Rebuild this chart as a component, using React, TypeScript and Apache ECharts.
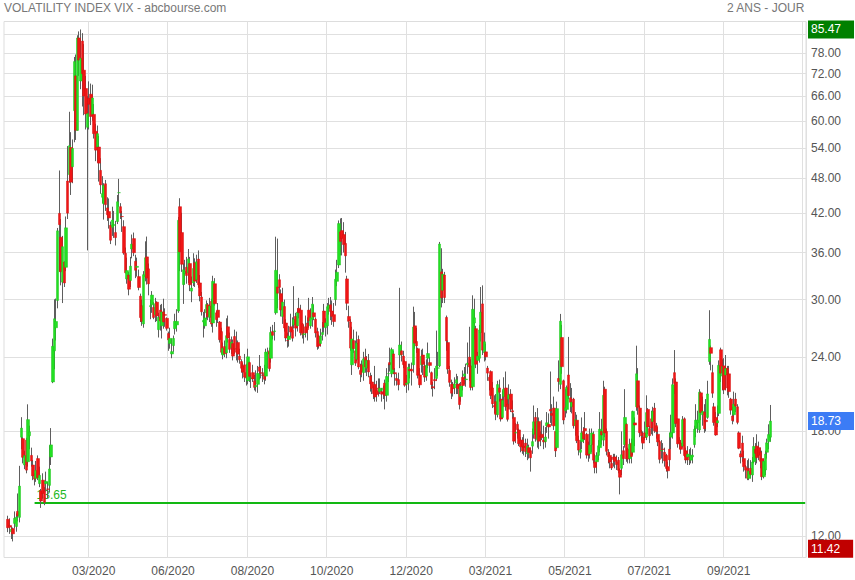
import React, { useEffect, useRef } from 'react';
import * as echarts from 'echarts';

// Daily VIX candles [open, close, low, high] — 14 Jan 2020 → 31 Dec 2020
const vix2020: number[][] = [
  // Jan
  [12.80,12.39,12.18,12.98],[12.50,12.42,12.10,12.85],[12.20,12.32,11.86,12.45],[12.35,12.10,11.75,12.40],
  [12.60,12.85,12.35,13.20],[12.45,12.91,12.20,13.10],[13.20,12.98,12.70,14.15],[12.90,14.56,12.65,15.75],
  [17.60,18.23,16.80,19.02],[17.50,16.28,15.90,17.60],[15.80,16.39,15.55,16.70],[17.40,15.49,15.30,17.56],
  [16.00,18.84,15.70,19.99],
  // Feb
  [17.70,17.97,16.80,18.40],[16.40,16.05,15.70,16.90],[15.80,15.15,14.90,16.10],[15.20,14.96,14.60,15.30],
  [15.00,15.47,14.80,16.05],[16.20,15.04,14.90,16.40],[14.70,15.18,14.50,15.70],[14.30,13.74,13.38,14.40],
  [14.90,14.15,13.90,15.30],[14.30,13.68,13.52,14.50],[14.70,14.83,14.30,15.40],[14.40,14.38,13.90,14.80],
  [14.60,15.56,14.20,17.05],[16.30,17.08,15.80,18.23],[21.80,25.03,21.70,25.79],[24.60,27.85,22.90,30.03],
  [26.90,27.56,25.60,30.12],[29.90,39.16,29.00,39.60],[41.90,40.11,33.42,49.48],
  // Mar
  [38.20,33.42,31.70,41.00],[32.10,36.82,29.60,38.40],[34.70,31.99,31.50,34.80],[34.00,39.62,33.50,41.40],
  [47.50,41.94,41.00,54.39],[48.70,54.46,47.20,62.12],[54.10,47.30,45.00,57.40],[50.20,53.90,47.10,55.80],
  [62.40,75.47,55.20,76.83],[71.40,57.83,55.70,77.57],[57.80,82.69,57.80,83.56],[82.70,75.91,71.40,84.83],
  [70.00,76.45,67.80,85.47],[81.70,72.00,63.40,84.26],[73.00,66.04,61.30,80.74],[68.00,61.59,58.00,71.40],
  [58.50,61.67,36.30,66.00],[65.50,63.95,58.00,69.90],[66.50,61.00,59.00,69.30],[61.50,65.54,60.00,69.00],
  [61.50,57.08,56.00,64.00],[57.60,53.54,51.30,59.30],
  // Apr
  [54.20,57.06,51.00,58.90],[54.20,50.91,47.40,56.60],[49.50,46.80,45.20,51.90],[44.60,45.24,43.60,48.40],
  [43.50,46.70,40.90,47.10],[47.00,43.35,42.30,47.70],[42.80,41.67,40.70,44.60],[42.20,41.17,39.50,44.40],
  [40.00,37.76,37.20,40.60],[39.70,40.84,38.40,43.00],[40.00,40.11,38.10,42.30],[38.90,38.15,37.00,40.70],
  [40.60,43.83,40.20,45.00],[45.40,45.41,43.00,47.90],[43.00,41.98,41.00,43.60],[41.40,41.38,39.00,42.30],
  [39.80,35.93,35.70,40.80],[35.90,33.29,33.20,36.70],[32.50,33.57,31.90,35.30],[33.00,31.23,30.50,33.40],
  [32.30,34.15,31.50,35.40],
  // May
  [36.50,37.19,35.20,38.60],[38.00,35.97,35.50,38.90],[34.80,33.61,32.60,35.70],[34.00,34.12,32.80,35.30],
  [32.80,31.44,31.10,33.70],[30.40,27.98,27.50,30.70],[29.30,27.57,27.10,30.00],[27.30,33.04,26.90,33.50],
  [32.80,35.28,32.20,37.60],[35.40,32.61,31.80,38.30],[33.80,31.89,30.50,34.50],[29.20,29.30,27.80,30.00],
  [29.40,30.53,28.50,31.00],[29.10,27.99,27.80,29.70],[28.30,29.53,27.50,30.20],[29.70,28.16,27.60,29.80],
  [26.70,28.01,25.90,28.50],[28.80,27.62,26.60,29.40],[27.10,28.59,25.80,29.50],[28.60,27.51,26.80,30.10],
  // Jun
  [28.30,28.23,27.00,29.00],[27.90,26.84,26.60,28.00],[26.30,25.66,24.60,26.50],[25.30,25.81,24.80,26.90],
  [24.30,24.52,23.90,25.80],[25.10,25.81,24.50,26.10],[26.80,27.57,26.20,28.40],[27.20,27.57,26.50,28.90],
  [28.70,40.79,28.50,41.33],[43.00,36.09,33.50,44.44],[38.90,34.40,33.40,42.00],[31.80,33.67,29.50,34.50],
  [33.20,33.47,31.80,35.00],[34.00,32.94,31.90,35.40],[33.30,35.12,32.00,36.50],[34.50,31.77,31.00,35.40],
  [31.00,31.37,29.70,32.80],[32.00,33.84,31.60,35.90],[34.60,32.22,31.50,35.20],[32.40,34.73,32.00,35.70],
  [35.10,31.78,31.40,36.30],[32.00,30.43,29.80,33.00],
  // Jul
  [30.30,28.62,28.20,30.90],[27.50,27.68,25.90,28.60],[27.10,27.94,26.80,28.90],[28.50,29.43,27.80,29.90],
  [29.40,28.08,27.70,29.60],[28.00,29.26,27.50,30.20],[29.80,27.29,27.00,30.10],[27.40,32.19,26.40,32.90],
  [31.90,29.52,29.30,32.60],[28.50,27.76,27.00,28.70],[28.80,28.00,27.40,29.60],[27.50,25.68,25.40,27.60],
  [26.50,24.46,24.30,26.90],[24.20,24.84,23.80,25.40],[25.00,24.32,24.00,25.60],[24.40,26.08,23.90,27.90],
  [27.00,25.84,25.40,28.20],[25.70,24.74,24.40,26.40],[24.90,25.44,24.30,26.00],[25.30,24.10,23.70,25.70],
  [26.00,24.76,24.30,26.70],[24.80,24.46,23.70,26.50],
  // Aug
  [25.40,24.28,23.50,25.60],[24.10,23.76,23.40,24.80],[23.60,22.99,22.60,23.80],[23.20,22.65,22.10,23.50],
  [23.30,22.21,21.80,24.30],[22.60,22.13,21.50,23.40],[21.90,24.03,21.60,24.80],[23.50,22.28,21.80,23.60],
  [22.10,22.13,21.30,22.60],[22.60,22.05,21.80,23.30],[21.90,21.35,21.10,22.40],[21.40,21.51,21.00,22.80],
  [21.60,22.54,20.90,23.20],[23.10,22.72,22.00,24.20],[22.60,22.54,22.10,23.20],[22.40,22.37,21.80,23.00],
  [22.60,22.03,21.60,23.30],[22.30,24.47,21.90,24.80],[24.30,24.47,23.00,24.90],[24.60,22.96,22.70,24.90],
  [23.90,26.41,23.50,27.00],
  // Sep
  [26.50,26.12,25.70,27.20],[26.50,26.57,25.60,27.50],[28.50,33.60,28.30,38.28],[31.50,30.75,29.00,38.00],
  [32.40,31.46,30.00,33.10],[30.70,28.81,28.10,31.20],[28.10,29.71,27.30,31.40],[29.20,26.87,26.50,30.00],
  [27.40,25.85,25.50,27.80],[25.60,25.59,24.90,26.40],[25.70,26.04,25.00,27.10],[27.00,26.46,25.90,28.40],
  [26.70,25.83,25.50,28.00],[27.20,27.78,26.80,31.60],[28.10,26.86,26.00,28.50],[27.10,28.58,26.50,29.00],
  [29.00,28.51,27.90,30.20],[28.80,26.38,26.10,29.40],[27.30,26.19,25.80,27.40],[26.20,26.27,25.30,27.20],
  [27.00,26.37,25.90,28.20],
  // Oct
  [27.40,26.70,25.60,28.00],[28.80,27.63,26.90,30.20],[27.10,27.96,26.80,29.00],[27.80,29.48,27.00,30.30],
  [28.50,28.06,27.70,29.40],[27.80,26.36,25.90,28.00],[26.50,25.00,24.70,26.90],[26.00,25.07,24.80,26.20],
  [25.30,26.07,25.00,26.80],[26.20,26.40,25.60,27.50],[28.70,26.97,26.40,29.50],[26.90,27.41,26.00,27.90],
  [27.10,29.18,26.20,29.60],[29.00,29.35,28.30,30.20],[29.40,28.65,27.70,30.30],[28.70,28.11,27.20,29.90],
  [28.30,27.55,27.00,29.60],[30.00,32.46,29.30,33.70],[32.20,33.35,31.60,35.00],[34.30,40.28,33.90,40.77],
  [39.00,37.59,35.60,41.09],[39.20,38.02,35.60,41.16],
  // Nov
  [38.60,37.13,36.00,40.50],[37.30,35.55,33.30,39.00],[32.50,29.57,28.80,32.90],[28.10,27.58,26.90,29.30],
  [27.50,24.86,24.60,27.80],[23.30,25.75,22.40,27.00],[25.60,24.80,24.40,26.70],[24.60,23.45,23.20,25.60],
  [23.80,25.35,23.60,26.50],[25.70,23.10,22.90,26.10],[22.80,22.45,21.80,23.40],[23.30,22.71,22.20,23.70],
  [22.60,23.84,21.90,24.50],[24.00,23.11,22.60,24.80],[23.00,23.70,22.30,24.10],[23.70,22.66,22.20,24.30],
  [22.30,21.64,21.00,22.60],[21.80,21.25,20.80,22.40],[21.20,20.84,20.40,21.50],[21.60,20.57,20.20,23.20],
  // Dec
  [21.10,20.77,20.20,21.90],[21.30,21.17,20.60,22.10],[21.00,21.28,20.80,22.10],[21.00,20.79,20.20,21.30],
  [21.10,21.30,20.40,21.50],[21.70,20.68,19.60,22.00],[20.70,22.27,20.20,23.00],[22.50,22.52,21.80,23.40],
  [23.50,23.31,22.70,24.90],[22.50,24.72,22.20,24.90],[24.30,22.89,22.50,24.60],[22.60,22.50,21.50,23.00],
  [22.10,21.93,21.50,22.50],[22.00,21.57,21.10,22.60],[24.20,25.16,23.00,31.40],[24.60,24.23,23.60,25.50],
  [24.10,23.31,23.00,24.60],[23.60,21.53,21.40,23.70],[21.60,21.70,20.90,22.40],[21.70,23.08,21.10,23.40],
  [22.90,22.77,22.10,23.40],[22.90,22.75,21.50,23.50],
];

// Daily VIX candles [open, close, low, high] — 4 Jan 2021 → 10 Nov 2021
const vix2021: number[][] = [
  // Jan
  [23.30,26.97,22.60,29.19],[27.10,25.34,24.80,28.60],[25.50,25.07,24.40,26.90],[24.80,22.37,22.10,24.90],
  [22.40,21.56,21.30,23.00],[23.30,24.08,22.60,24.70],[24.20,23.33,22.40,24.80],[23.20,22.21,21.80,23.60],
  [22.30,23.25,21.90,23.80],[23.90,24.34,23.00,25.40],[23.50,23.24,22.60,24.00],[22.60,21.58,21.20,22.70],
  [21.40,21.32,20.60,21.80],[22.00,21.91,21.20,23.00],[22.10,23.19,21.90,26.60],[23.00,23.02,22.30,24.50],
  [23.20,37.21,23.10,37.51],[33.40,30.21,29.10,36.60],[31.10,33.09,29.60,33.80],
  // Feb
  [33.00,30.24,29.60,33.40],[28.00,25.56,24.60,28.20],[25.40,22.91,22.50,25.60],[22.80,21.77,21.40,23.20],
  [21.60,20.87,20.40,22.00],[21.60,21.24,20.60,21.80],[21.30,21.63,20.80,22.20],[21.70,21.99,20.80,22.50],
  [21.60,21.25,20.80,22.30],[21.60,19.97,19.60,21.70],[20.60,21.46,20.20,21.80],[22.20,21.50,21.10,22.80],
  [22.30,22.49,21.60,23.10],[22.00,22.05,21.40,23.40],[23.30,23.45,22.50,25.40],[24.00,23.11,21.90,27.00],
  [23.20,21.34,21.10,23.80],[21.40,28.89,21.10,30.50],[27.40,27.95,25.70,30.10],
  // Mar
  [26.80,23.35,23.00,27.10],[23.70,24.10,22.50,24.50],[23.90,26.67,23.50,27.20],[26.40,28.57,25.50,31.50],
  [29.50,24.66,24.20,31.70],[24.40,25.47,23.60,26.40],[24.50,24.03,23.70,25.30],[23.00,22.56,21.90,23.20],
  [22.20,21.91,21.10,22.40],[22.70,20.69,20.40,22.80],[21.30,20.03,19.70,21.80],[19.90,19.79,19.30,20.70],
  [20.20,19.23,18.80,20.80],[19.20,21.58,19.00,21.90],[21.30,20.95,20.20,22.00],[20.40,18.88,18.70,20.80],
  [19.00,20.30,18.90,21.10],[20.60,21.20,19.80,22.20],[21.30,19.81,19.50,22.70],[20.00,18.86,18.70,20.60],
  [20.40,20.74,19.60,21.60],[20.80,19.61,19.40,21.20],[19.50,19.40,18.90,20.30],
  // Apr
  [19.00,17.33,17.10,19.30],[17.90,17.91,17.20,18.60],[18.50,18.12,17.50,18.70],[18.10,17.16,17.00,18.20],
  [17.40,16.95,16.60,17.60],[17.40,16.69,16.50,17.60],[17.00,16.91,16.40,17.80],[17.20,16.65,16.30,17.50],
  [16.50,16.99,16.10,17.50],[16.90,16.57,16.20,17.10],[16.70,16.25,15.40,16.90],[17.00,17.30,16.50,18.20],
  [17.80,18.68,17.50,19.90],[19.00,17.50,17.30,19.40],[17.40,18.71,16.90,19.70],[18.70,17.33,16.80,19.00],
  [17.70,17.64,17.00,18.00],[17.80,17.56,17.40,18.80],[17.40,17.28,16.80,18.40],[17.30,17.61,16.90,18.30],
  [18.40,18.61,17.90,19.40],
  // May
  [18.50,18.31,17.50,19.30],[19.60,19.48,18.60,22.70],[19.30,19.15,18.40,20.00],[19.70,18.39,18.10,20.60],
  [18.00,16.69,16.30,18.00],[16.90,19.66,16.80,20.20],[22.10,21.84,21.00,23.70],[21.60,27.59,21.20,28.38],
  [25.90,23.13,22.50,27.20],[21.90,18.81,18.50,22.00],[19.50,19.72,19.00,21.20],[19.60,21.34,19.30,21.50],
  [22.40,20.67,20.40,25.96],[20.50,20.15,19.40,21.70],[19.80,20.15,19.30,21.30],[20.40,18.40,18.20,20.50],
  [18.40,18.84,17.70,19.40],[18.80,17.36,17.20,19.20],[17.40,16.74,16.40,17.70],[16.60,16.76,16.20,17.40],
  // Jun
  [17.30,17.90,16.80,19.00],[18.00,17.48,17.20,18.30],[18.20,18.04,17.40,19.40],[17.80,16.42,16.20,17.90],
  [17.00,16.42,16.00,17.30],[16.50,17.07,16.20,18.20],[17.10,17.89,16.60,18.20],[17.80,16.10,15.90,18.00],
  [16.00,15.65,15.30,16.50],[16.00,16.39,15.30,16.60],[16.40,17.02,16.10,17.40],[16.90,18.15,16.60,19.40],
  [18.00,17.75,17.10,18.90],[17.40,20.70,17.00,21.90],[21.20,17.89,17.60,21.40],[18.00,16.66,16.40,18.20],
  [16.60,16.32,15.90,16.80],[16.40,15.97,15.60,16.60],[15.90,15.62,15.50,16.30],[16.30,16.14,15.70,16.50],
  [16.30,16.02,15.60,16.50],[16.00,15.83,15.50,16.40],
  // Jul
  [16.10,15.48,15.30,16.30],[15.50,15.07,14.10,15.60],[15.60,16.44,15.20,18.00],[16.70,16.20,15.80,17.00],
  [17.10,19.00,16.90,21.20],[18.50,16.18,16.00,18.60],[16.80,16.17,15.90,16.90],[16.20,17.12,15.90,17.50],
  [17.20,16.33,15.90,17.50],[16.60,19.45,16.40,19.50],[18.60,18.45,17.00,19.00],[19.80,22.50,19.50,25.09],
  [21.90,19.73,19.20,23.00],[19.70,17.91,17.60,19.90],[17.90,17.69,17.30,18.10],[17.60,17.20,16.80,18.00],
  [17.90,17.58,17.40,18.70],[17.60,19.36,17.40,20.70],[19.60,18.31,17.80,19.70],[18.20,17.70,17.20,18.40],
  [18.90,18.24,17.80,19.50],
  // Aug
  [18.70,19.46,17.70,19.80],[19.70,18.04,17.90,20.10],[18.40,17.97,17.50,18.60],[17.80,17.28,17.00,18.30],
  [17.30,16.15,15.90,17.40],[16.70,16.72,16.20,17.40],[16.80,16.79,15.90,17.20],[16.60,16.06,15.70,16.90],
  [16.40,15.59,15.40,16.50],[15.70,15.45,15.00,16.00],[16.80,16.12,15.70,17.90],[17.60,17.91,16.80,19.20],
  [17.90,21.57,17.50,22.10],[22.60,21.67,20.80,24.67],[21.80,18.56,18.30,22.10],[18.90,17.15,16.90,18.90],
  [17.40,17.22,16.80,17.60],[17.20,16.79,16.50,17.40],[17.00,18.84,16.90,19.10],[18.90,16.39,16.30,19.00],
  [16.70,16.11,15.90,16.90],[16.30,16.48,15.80,17.00],
  // Sep
  [16.30,16.11,15.80,16.80],[16.10,16.41,15.90,16.90],[16.30,16.41,15.90,16.80],[17.10,18.15,16.90,18.40],
  [18.20,18.80,17.60,20.00],[18.60,18.80,17.90,19.50],[18.10,20.95,17.90,21.20],[20.90,19.37,18.80,21.00],
  [19.20,19.46,18.40,20.60],[19.40,18.18,17.90,20.00],[18.80,18.69,18.00,20.40],[19.00,20.81,18.90,21.90],
  [23.60,25.71,23.30,28.79],[24.90,24.36,22.80,25.10],[22.60,20.87,20.50,23.30],[19.80,18.63,18.40,20.10],
  [19.00,17.75,17.70,19.40],[18.60,18.76,18.30,19.90],[19.30,23.25,19.10,23.70],[24.70,22.56,21.80,24.90],
  [22.30,23.14,21.10,23.80],
  // Oct
  [23.20,21.15,20.80,23.90],[22.40,22.96,21.10,24.20],[23.00,21.30,20.70,23.20],[22.50,21.00,20.50,23.20],
  [20.40,19.54,19.20,20.50],[19.10,18.77,18.50,19.80],[19.20,20.00,18.70,21.00],[20.40,19.85,19.40,20.90],
  [19.80,18.64,18.50,20.00],[17.90,16.86,16.80,18.00],[16.50,16.30,15.90,16.70],[17.20,16.30,16.00,17.70],
  [16.20,15.70,15.40,16.70],[15.70,15.49,15.00,15.80],[15.60,15.01,14.90,16.10],[15.00,15.43,14.90,16.20],
  [15.60,15.24,15.00,16.10],[15.20,15.98,14.80,16.30],[16.00,16.98,15.90,17.60],[16.80,16.53,15.80,17.20],
  [17.00,16.26,15.90,17.80],
  // Nov
  [16.90,16.41,16.10,17.30],[16.60,16.03,15.60,16.90],[16.20,15.10,14.90,16.70],[15.10,16.03,15.00,16.20],
  [15.50,16.48,15.20,16.70],[16.60,17.22,16.20,17.50],[17.30,17.78,16.80,18.50],[17.60,18.73,17.30,19.94],
];

// Gridline levels (84 sits under the high-value box, so it carries no label)
const yGridValues = [12, 18, 24, 30, 36, 42, 48, 54, 60, 66, 72, 78, 84];
const yLabelValues = [12, 18, 24, 30, 36, 42, 48, 54, 60, 66, 72, 78];
const hiddenGridValue = 84;
const xTickLabels = ['03/2020', '06/2020', '08/2020', '10/2020', '12/2020', '03/2021', '05/2021', '07/2021', '09/2021'];
const highestValue = 85.47;
const lastValue = 18.73;
const lowestValue = 11.42;
const supportValue = 13.65;

const TOTAL_SLOTS = 485;
const LEAD_SLOTS = 2;
const FIRST_TICK = 51;
const TICK_STEP = 48;
const SUPPORT_START = 18;

const FONT = "'Liberation Sans', Arial, Helvetica, sans-serif";

export default function App() {
  const ref = useRef<HTMLDivElement>(null);

  useEffect(() => {
    if (!ref.current) return;
    const chart = echarts.init(ref.current, null, { renderer: 'svg' });
    const rows = [...vix2020, ...vix2021];
    const categories = Array.from({ length: TOTAL_SLOTS }, (_, i) => 's' + i);
    const wicks = rows.map((r, i) => [i + LEAD_SLOTS, r[0], r[1], r[2], r[3]]);
    const bodies = rows.map((r, i) => [i + LEAD_SLOTS, r[0], r[1], Math.min(r[0], r[1]), Math.max(r[0], r[1])]);
    const isTick = (i: number) => i >= FIRST_TICK && (i - FIRST_TICK) % TICK_STEP === 0;

    const boxLabel = (bg: string) => ({
      show: true,
      position: 'end',
      distance: 2,
      color: '#ffffff',
      fontSize: 12,
      fontFamily: FONT,
      lineHeight: 14,
      padding: [2, 13, 2, 3],
      backgroundColor: bg,
      formatter: (p: any) => Number(p.value).toFixed(2),
    });

    chart.setOption({
      animation: false,
      textStyle: { fontFamily: FONT },
      graphic: [
        {
          type: 'text', left: 4, top: 2,
          style: { text: 'VOLATILITY INDEX VIX - abcbourse.com', fill: '#777777', fontSize: 12, fontFamily: FONT },
        },
        {
          type: 'text', right: 50, top: 2,
          style: { text: '2 ANS - JOUR', fill: '#777777', fontSize: 12, fontFamily: FONT },
        },
      ],
      grid: {
        left: 4, right: 49, top: 21.5, bottom: 22.5,
        show: true, borderColor: '#dddddd', borderWidth: 1, backgroundColor: 'transparent',
      },
      xAxis: {
        type: 'category',
        data: categories,
        boundaryGap: true,
        axisLine: { show: false },
        axisTick: { show: false },
        splitLine: { show: true, interval: (i: number) => isTick(i), lineStyle: { color: '#e0e0e0', width: 1 } },
        axisLabel: {
          interval: (i: number) => isTick(i),
          formatter: (_v: string, i: number) => xTickLabels[(i - FIRST_TICK) / TICK_STEP] || '',
          color: '#555555', fontSize: 12, fontFamily: FONT, margin: 7, padding: [0, 0, 0, 9],
        },
      },
      yAxis: {
        type: 'log',
        logBase: 10,
        position: 'right',
        min: 11.04,
        max: 88.15,
        axisLine: { show: false },
        axisTick: { show: false, customValues: yGridValues },
        axisLabel: {
          customValues: yLabelValues,
          formatter: (v: number) => Number(v).toFixed(2),
          color: '#555555', fontSize: 12, fontFamily: FONT, margin: 5,
        },
        splitLine: { show: true, lineStyle: { color: '#e0e0e0', width: 1 } },
      },
      series: [
        {
          type: 'candlestick',
          name: 'wicks',
          z: 2,
          barWidth: 1,
          data: wicks,
          encode: { x: 0, y: [1, 2, 3, 4] },
          itemStyle: { color: '#5e5e5e', color0: '#5e5e5e', borderColor: '#5e5e5e', borderColor0: '#5e5e5e', borderWidth: 1 },
          markLine: {
            silent: true,
            z: 1,
            symbol: 'none',
            lineStyle: { color: '#12b812', width: 2, type: 'solid' },
            label: {
              show: true, position: 'insideStartTop', color: '#22b822', fontSize: 12, fontFamily: FONT,
              distance: 2,
              formatter: () => supportValue.toFixed(2),
            },
            data: [
              [{ coord: [SUPPORT_START, supportValue] }, { coord: [TOTAL_SLOTS - 1, supportValue] }],
              {
                yAxis: hiddenGridValue,
                lineStyle: { color: '#e0e0e0', width: 1, type: 'solid' },
                label: { show: false },
              },
            ],
          },
        },
        {
          type: 'candlestick',
          name: 'bodies',
          z: 3,
          barWidth: 3,
          data: bodies,
          encode: { x: 0, y: [1, 2, 3, 4] },
          itemStyle: { color: '#22e022', color0: '#f01515', borderColor: '#1cc41c', borderColor0: '#d41010', borderWidth: 0.5 },
          markLine: {
            silent: true,
            symbol: 'none',
            lineStyle: { color: 'rgba(0,0,0,0)', width: 0 },
            data: [
              { yAxis: highestValue, label: boxLabel('#008000') },
              { yAxis: lastValue, label: boxLabel('#3c7cf5') },
              { yAxis: lowestValue, label: boxLabel('#c00000') },
            ],
          },
        },
      ],
    });

    return () => chart.dispose();
  }, []);

  return <div ref={ref} style={{ position: 'absolute', left: 0, top: 0, width: 855, height: 580 }} />;
}
